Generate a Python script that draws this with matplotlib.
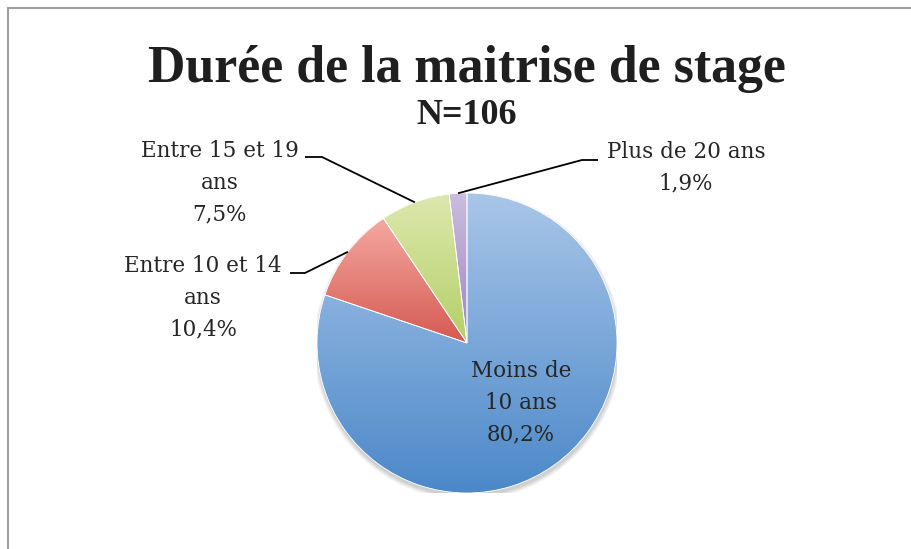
import matplotlib.pyplot as plt
import numpy as np
from matplotlib.colors import LinearSegmentedColormap
from matplotlib.lines import Line2D
from matplotlib.patches import Circle

categories = ['Moins de\n10 ans', 'Entre 10 et 14\nans', 'Entre 15 et 19\nans', 'Plus de 20 ans']
percents = [80.2, 10.4, 7.5, 1.9]
pct_labels = ['80,2%', '10,4%', '7,5%', '1,9%']
title = 'Durée de la maitrise de stage'
subtitle = 'N=106'

# light (top) -> dark (bottom) for each slice
grads = [('#a9c6e8', '#4b88c9'), ('#f5a8a2', '#d45a50'),
         ('#dde8ad', '#b3cf68'), ('#cbbde0', '#9c86c0')]

W, H = 912, 549
fig = plt.figure(figsize=(W / 100, H / 100), dpi=100)
plt.rcParams['font.family'] = ['DejaVu Serif']

# pie axes: centre (467, 343) px, radius 150 px
cx, cy, r = 467, 343, 150
ax = fig.add_axes([(cx - r) / W, (H - cy - r) / H, 2 * r / W, 2 * r / H])
ax.set_xlim(-1, 1)
ax.set_ylim(-1, 1)
ax.axis('off')

# soft shadow under the pie
for k in range(8):
    ax.add_patch(Circle((0.004, -0.022), 1.0 + k * 0.004, color='black',
                        alpha=0.025, lw=0, zorder=0))

wedges, _ = ax.pie(percents, startangle=90, counterclock=False, radius=1,
                   colors=['none'] * 4, wedgeprops={'linewidth': 0})

for w, (c1, c2) in zip(wedges, grads):
    verts = w.get_path().vertices
    y0, y1 = verts[:, 1].min(), verts[:, 1].max()
    x0, x1 = verts[:, 0].min(), verts[:, 0].max()
    cmap = LinearSegmentedColormap.from_list('g', [c2, c1])
    grad = np.linspace(0, 1, 256).reshape(-1, 1)
    im = ax.imshow(grad, extent=[x0, x1, y0, y1], origin='lower', cmap=cmap,
                   aspect='auto', zorder=1)
    im.set_clip_path(w)
    w.set_edgecolor('white')
    w.set_linewidth(0.6)
    w.set_facecolor('none')
    w.set_zorder(2)

# white disc behind the slices so the shadow only shows outside
ax.add_patch(Circle((0, 0), 1.0, color='white', lw=0, zorder=0.5))

ax.set_xlim(-1, 1)
ax.set_ylim(-1, 1)


def px(x, y):
    return (x - cx) / r, (cy - y) / r


fs = 15.5
ls = 1.58
# label inside the big slice
tx, ty = px(521, 403)
ax.text(tx, ty, categories[0] + '\n' + pct_labels[0], ha='center', va='center',
        fontsize=fs, color='#262626', linespacing=ls, zorder=5)

# outside labels with leader lines: (text centre, elbow, line end)
outside = {
    1: ((203, 298), (305, 273), (290, 273)),
    2: ((220, 183), (322, 157), (305, 157)),
    3: ((686, 168), (582, 160), (598, 160)),
}
theta = 90
mids = []
for p in percents:
    mids.append(theta - p * 3.6 / 2)
    theta -= p * 3.6
for i, (tpos, elbow, end) in outside.items():
    a = np.deg2rad(mids[i])
    ax_, ay_ = np.cos(a), np.sin(a)
    ex, ey = px(*elbow)
    lx, ly = px(*end)
    ax.plot([ax_, ex, lx], [ay_, ey, ly], color='black', lw=1.3,
            clip_on=False, zorder=4, solid_capstyle='butt')
    tx, ty = px(*tpos)
    ax.text(tx, ty, categories[i] + '\n' + pct_labels[i], ha='center', va='center',
            fontsize=fs, color='#262626', linespacing=ls, clip_on=False)

fig.text(467 / W, 1 - 82 / H, title, ha='center', va='baseline',
         fontsize=37.4, fontweight='bold', color='#1f1f1f', family='Liberation Serif')
fig.text(467 / W, 1 - 124 / H, subtitle, ha='center', va='baseline',
         fontsize=26, fontweight='bold', color='#1f1f1f', family='Liberation Serif')

# chart border (cropped on the right and bottom)
fig.add_artist(Line2D([8 / W, 8 / W], [0, 1 - 8 / H], transform=fig.transFigure,
                      color='#a0a0a0', lw=1.5))
fig.add_artist(Line2D([8 / W, 1], [1 - 8 / H, 1 - 8 / H], transform=fig.transFigure,
                      color='#a0a0a0', lw=1.5))

fig.savefig('out.png', dpi=100, facecolor='white')
